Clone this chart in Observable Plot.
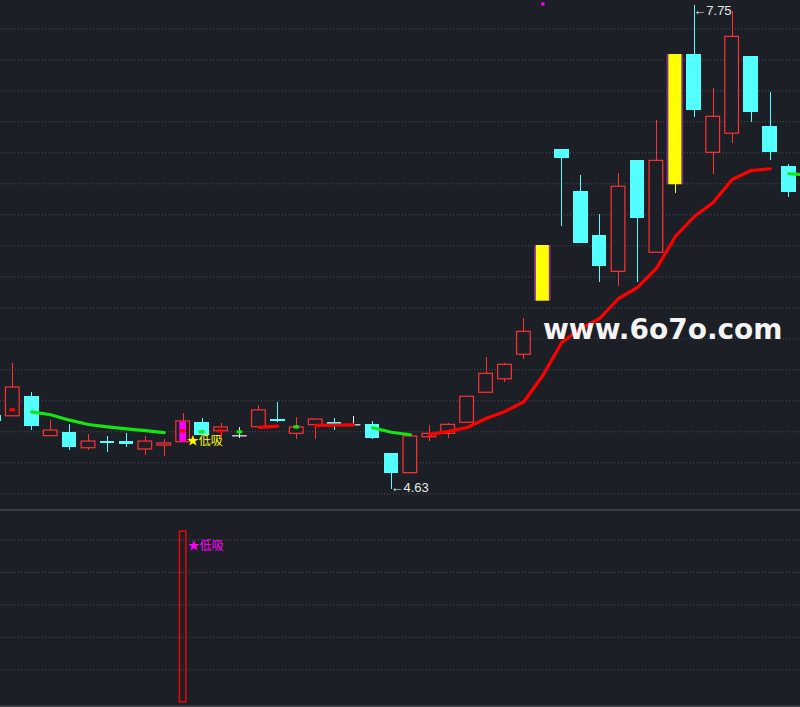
<!DOCTYPE html>
<html>
<head>
<meta charset="utf-8">
<script src="https://cdn.jsdelivr.net/npm/d3@7"></script>
<script src="https://cdn.jsdelivr.net/npm/@observablehq/plot@0.6"></script>
<style>
html, body { margin: 0; padding: 0; background: #1c1f26; }
#wrap { position: relative; width: 800px; height: 707px; overflow: hidden; background: #1c1f26; }
#wrap svg { display: block; }
#wm { position: absolute; left: 543px; top: 313px; font-family: "DejaVu Sans", sans-serif; font-weight: bold; font-size: 28px; color: #f4f4f4; white-space: nowrap; pointer-events: none; }
</style>
</head>
<body>
<div id="wrap"></div>
<script>
// ---- data ----
const openP  = [5.105,5.100,5.228,4.972,4.995,4.894,4.937,4.937,4.886,4.912,4.933,5.060,5.004,4.974,5.030,5.077,4.987,5.043,5.060,5.045,5.049,4.860,4.733,4.965,4.987,5.058,5.252,5.339,5.497,5.843,6.821,6.550,6.266,6.032,6.750,6.155,6.594,7.434,6.800,6.923,7.421,6.970,6.712];
const highP  = [5.120,5.440,5.254,5.073,5.047,4.982,4.970,4.989,4.970,4.950,5.118,5.086,5.054,5.028,5.170,5.189,5.090,5.079,5.086,5.099,5.066,4.860,4.970,5.041,5.055,5.226,5.477,5.441,5.729,6.202,6.821,6.654,6.402,6.666,6.750,7.008,7.434,7.750,7.215,7.712,7.421,7.189,6.725];
const lowP   = [5.050,5.100,5.008,4.972,4.879,4.879,4.868,4.899,4.847,4.841,4.930,4.978,4.959,4.959,5.025,5.062,4.952,4.952,5.010,5.045,4.952,4.630,4.733,4.937,4.957,5.058,5.252,5.320,5.468,5.843,6.326,6.217,5.965,5.939,5.965,6.155,6.535,7.026,6.658,6.858,6.997,6.750,6.514];
const closeP = [5.068,5.286,5.034,5.008,4.899,4.937,4.925,4.918,4.937,4.925,5.067,4.978,5.028,4.974,5.138,5.068,5.028,5.079,5.047,5.045,4.959,4.733,4.970,4.987,5.045,5.226,5.374,5.432,5.645,6.202,6.765,6.217,6.068,6.581,6.378,6.748,7.434,7.075,7.032,7.548,7.062,6.804,6.546];
const maLine = [null,5.142,5.129,5.110,5.075,5.047,5.032,5.019,5.008,4.995,5.006,5.000,5.006,5.000,5.028,5.036,5.032,5.041,5.043,5.045,5.026,4.997,4.981,4.982,5.003,5.028,5.086,5.131,5.194,5.363,5.576,5.666,5.731,5.860,5.931,6.054,6.260,6.389,6.479,6.628,6.686,6.697,6.665,6.658];
const limitUpIdx = [29, 36];
const signalIdx = [10];
const signalLabel = ["★低吸"];
const signalBar = [5.25];
const lowLabel = {idx: 21, value: 4.63, text: "←4.63"};
const highLabel = {idx: 37, value: 7.75, text: "←7.75"};
const markIdx = [29];
const markVal = [7.76];
const priceGrid = [4.6,4.8,5.0,5.2,5.4,5.6,5.8,6.0,6.2,6.4,6.6,6.8,7.0,7.2,7.4,7.6];
const lowerGrid = [1,2,3,4,5];

// ---- styles ----
const BG = "#1c1f26", RED = "#ff3232", CYAN = "#54ffff", WHITE = "#f0f0f0";
const MARED = "#ff0000", MAGREEN = "#14e614", YELLOW = "#ffff00", PURPLE = "#7a2c8e", MAGENTA = "#ff00ff";
const GRID = "#4e525c", LINE = "#3e424b";
const HW = 0.388;
const xDomain = [0.3502, 42.611];

const candles = openP.map((o, i) => ({
  i, o, h: highP[i], l: lowP[i], c: closeP[i],
  type: closeP[i] > o ? "up" : closeP[i] < o ? "down" : "flat",
  limit: limitUpIdx.includes(i), signal: signalIdx.includes(i)
}));
const wickColor = d => d.limit ? YELLOW : d.type === "up" ? RED : d.type === "down" ? CYAN : WHITE;

// MA segments coloured by direction
const maPts = [];
let run = 0, prevUp = null;
maLine.forEach((v, i) => {
  if (v == null) { prevUp = null; run++; return; }
  const prev = i > 0 ? maLine[i - 1] : null;
  const up = prev == null ? true : v >= prev;
  if (prevUp !== null && up !== prevUp) run++;
  prevUp = up;
  maPts.push({i, v, up, run});
});
const runCount = d3.rollup(maPts, g => g.length, d => d.run);
maPts.forEach(d => d.single = runCount.get(d.run) === 1);

const signals = signalIdx.map((i, k) => ({i, label: signalLabel[k], bar: signalBar[k], low: lowP[i], o: openP[i], c: closeP[i]}));

const upper = Plot.plot({
  width: 800, height: 509, margin: 0,
  style: {background: BG, overflow: "hidden"},
  x: {domain: xDomain, axis: null},
  y: {domain: [4.4987, 7.7826], axis: null},
  marks: [
    Plot.ruleY(priceGrid, {stroke: GRID, strokeWidth: 1, strokeDasharray: "1,2"}),
    Plot.ruleX(candles.filter(d => d.h > d.l), {x: "i", y1: "l", y2: "h", stroke: wickColor, strokeWidth: 1, shapeRendering: "crispEdges"}),
    Plot.rect(candles.filter(d => d.type === "up" && !d.limit), {
      x1: d => d.i - HW, x2: d => d.i + HW, y1: "o", y2: "c",
      fill: BG, stroke: RED, strokeWidth: 1.2, insetLeft: 0.5, insetRight: 0.5
    }),
    Plot.rect(candles.filter(d => d.type === "down" && !d.limit), {
      x1: d => d.i - HW, x2: d => d.i + HW, y1: "o", y2: "c", fill: CYAN, shapeRendering: "crispEdges"
    }),
    Plot.ruleY(candles.filter(d => d.type === "flat"), {
      x1: d => d.i - HW, x2: d => d.i + HW, y: "o", stroke: WHITE, strokeWidth: 1.2
    }),
    Plot.rect(candles.filter(d => d.limit), {
      x1: d => d.i - 0.441, x2: d => d.i + 0.441, y1: "o", y2: "c", fill: PURPLE
    }),
    Plot.rect(candles.filter(d => d.limit), {
      x1: d => d.i - 0.343, x2: d => d.i + 0.343, y1: "o", y2: "c", fill: YELLOW
    }),
    Plot.rect(signals, {
      x1: d => d.i - 0.177, x2: d => d.i + 0.177, y1: "o", y2: "c", fill: MAGENTA, insetTop: 0.6, insetBottom: 0.6
    }),
    Plot.line(maPts, {x: "i", y: "v", z: "run", stroke: d => d.up ? MARED : MAGREEN, strokeWidth: 3.2, curve: "linear"}),
    Plot.ruleY(maPts.filter(d => d.single), {
      x1: d => d.i - 0.15, x2: d => d.i + 0.15, y: "v", stroke: d => d.up ? MARED : MAGREEN, strokeWidth: 3.2
    }),
    Plot.text(signals, {x: "i", y: "low", text: "label", dx: 3.5, dy: -1, textAnchor: "start",
      fill: YELLOW, fontSize: 12, fontFamily: "Noto Sans CJK SC, sans-serif"}),
    Plot.text([lowLabel], {x: "idx", y: "value", text: "text", dx: -1, dy: -1, textAnchor: "start",
      fill: "#e6e6e6", fontSize: 13, fontFamily: "Liberation Sans, Arial, sans-serif"}),
    Plot.text([highLabel], {x: "idx", y: "value", text: "text", dx: -1, dy: 5, textAnchor: "start",
      fill: "#e6e6e6", fontSize: 13, fontFamily: "Liberation Sans, Arial, sans-serif"}),
    Plot.dot(markIdx.map((i, k) => ({i, v: markVal[k]})), {x: "i", y: "v", symbol: "square", r: 1.8, fill: MAGENTA})
  ]
});

const lowerDomain = [-0.16, 5.932];
const lower = Plot.plot({
  width: 800, height: 198, margin: 0,
  style: {background: BG, overflow: "hidden"},
  x: {domain: xDomain, axis: null},
  y: {domain: lowerDomain, axis: null},
  marks: [
    Plot.ruleY(lowerGrid, {stroke: GRID, strokeWidth: 1, strokeDasharray: "1,2"}),
    Plot.ruleY([lowerDomain[1] - 0.01, lowerDomain[0] + 0.04], {stroke: LINE, strokeWidth: 2}),
    Plot.rect(signals, {x1: d => d.i - 0.17, x2: d => d.i + 0.17, y1: 0, y2: "bar", fill: "none", stroke: MARED, strokeWidth: 1.4}),
    Plot.text(signals, {x: "i", y: "bar", text: "label", dx: 4.5, dy: 14.5, textAnchor: "start",
      fill: MAGENTA, fontSize: 12, fontFamily: "Noto Sans CJK SC, sans-serif"})
  ]
});

const wrap = document.getElementById("wrap");
wrap.appendChild(upper);
wrap.appendChild(lower);
const wm = document.createElement("div");
wm.id = "wm";
wm.textContent = "www.6o7o.com";
wrap.appendChild(wm);
</script>
</body>
</html>
